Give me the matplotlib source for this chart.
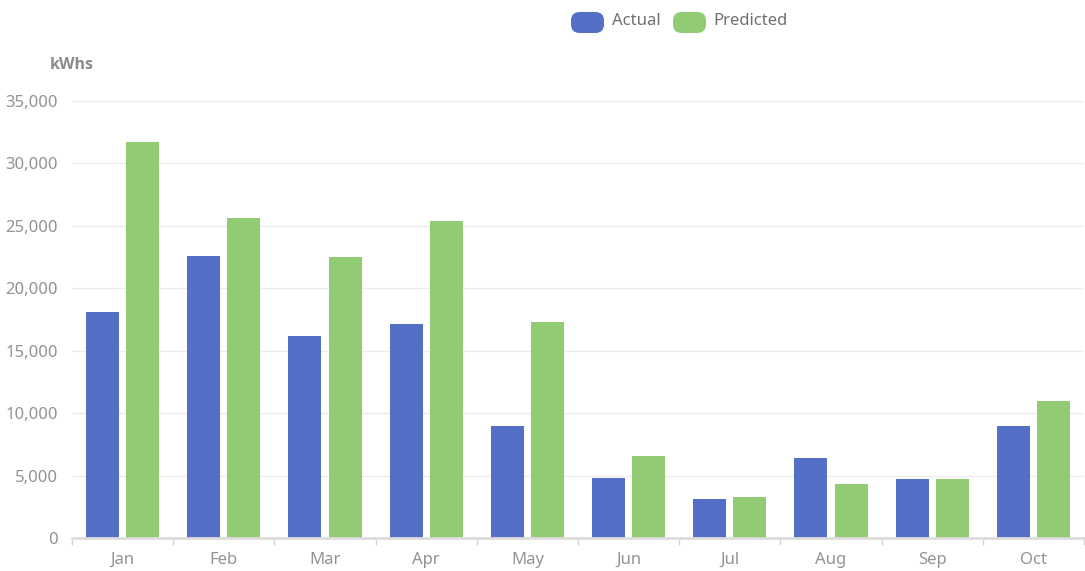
import matplotlib
matplotlib.use("Agg")
import matplotlib.pyplot as plt
from matplotlib.patches import FancyBboxPatch
from matplotlib.ticker import FuncFormatter, FixedLocator
import numpy as np

months = ["Jan", "Feb", "Mar", "Apr", "May", "Jun", "Jul", "Aug", "Sep", "Oct"]
actual = [18100, 22600, 16200, 17100, 9000, 4800, 3100, 6400, 4700, 9000]
predicted = [31700, 25600, 22500, 25400, 17300, 6600, 3300, 4300, 4700, 11000]
series_names = ["Actual", "Predicted"]
y_ticks = [0, 5000, 10000, 15000, 20000, 25000, 30000, 35000]

BLUE = "#5470c6"
GREEN = "#91cc75"
TEXT = "#939393"

plt.rcParams["font.family"] = ["Noto Sans", "DejaVu Sans"]

W, H = 1085, 571
fig = plt.figure(figsize=(W / 100, H / 100), dpi=100)
ax = fig.add_axes([72 / W, 1 - 538 / H, (1084 - 72) / W, (538 - 100.7) / H])

x = np.arange(len(months))
bw = 0.326
off = bw / 2 + 0.035
ax.bar(x - off, actual, width=bw, color=BLUE, zorder=3)
ax.bar(x + off, predicted, width=bw, color=GREEN, zorder=3)

ax.set_xlim(-0.5, len(months) - 0.5)
ax.set_ylim(0, 35000)
ax.yaxis.set_major_locator(FixedLocator(y_ticks))
ax.yaxis.set_major_formatter(FuncFormatter(lambda v, p: f"{int(v):,}"))
ax.grid(axis="y", color="#ececec", linewidth=1, zorder=0)

ax.set_xticks(x)
ax.set_xticklabels(months)
ax.set_xticks(np.arange(len(months) + 1) - 0.5, minor=True)
ax.tick_params(axis="x", which="major", length=0, pad=10, labelsize=12, labelcolor=TEXT)
ax.tick_params(axis="x", which="minor", length=5, width=1, color="#d6d6d6")
ax.tick_params(axis="y", length=0, pad=10, labelsize=12, labelcolor=TEXT)

for s in ["top", "right", "left"]:
    ax.spines[s].set_visible(False)
ax.spines["bottom"].set_color("#dcdcdc")
ax.spines["bottom"].set_linewidth(2)
ax.spines["bottom"].set_zorder(4)

fig.text(50 / W, 1 - 65 / H, "kWhs", fontsize=11.5, fontweight="bold",
         family=["Open Sans", "DejaVu Sans"], color="#8a8a8a",
         ha="left", va="center")

# legend
legend_items = [(571, 612, BLUE, series_names[0]), (673, 713, GREEN, series_names[1])]
for bx, tx, col, label in legend_items:
    box = FancyBboxPatch((bx / W, 1 - 33 / H), 33 / W, 21 / H,
                         boxstyle="round,pad=0,rounding_size=0.008",
                         transform=fig.transFigure, facecolor=col,
                         edgecolor="none", mutation_aspect=W / H)
    fig.patches.append(box)
    fig.text(tx / W, 1 - 21 / H, label, fontsize=12, color="#707070",
             ha="left", va="center")

fig.savefig("out.png", dpi=100)
